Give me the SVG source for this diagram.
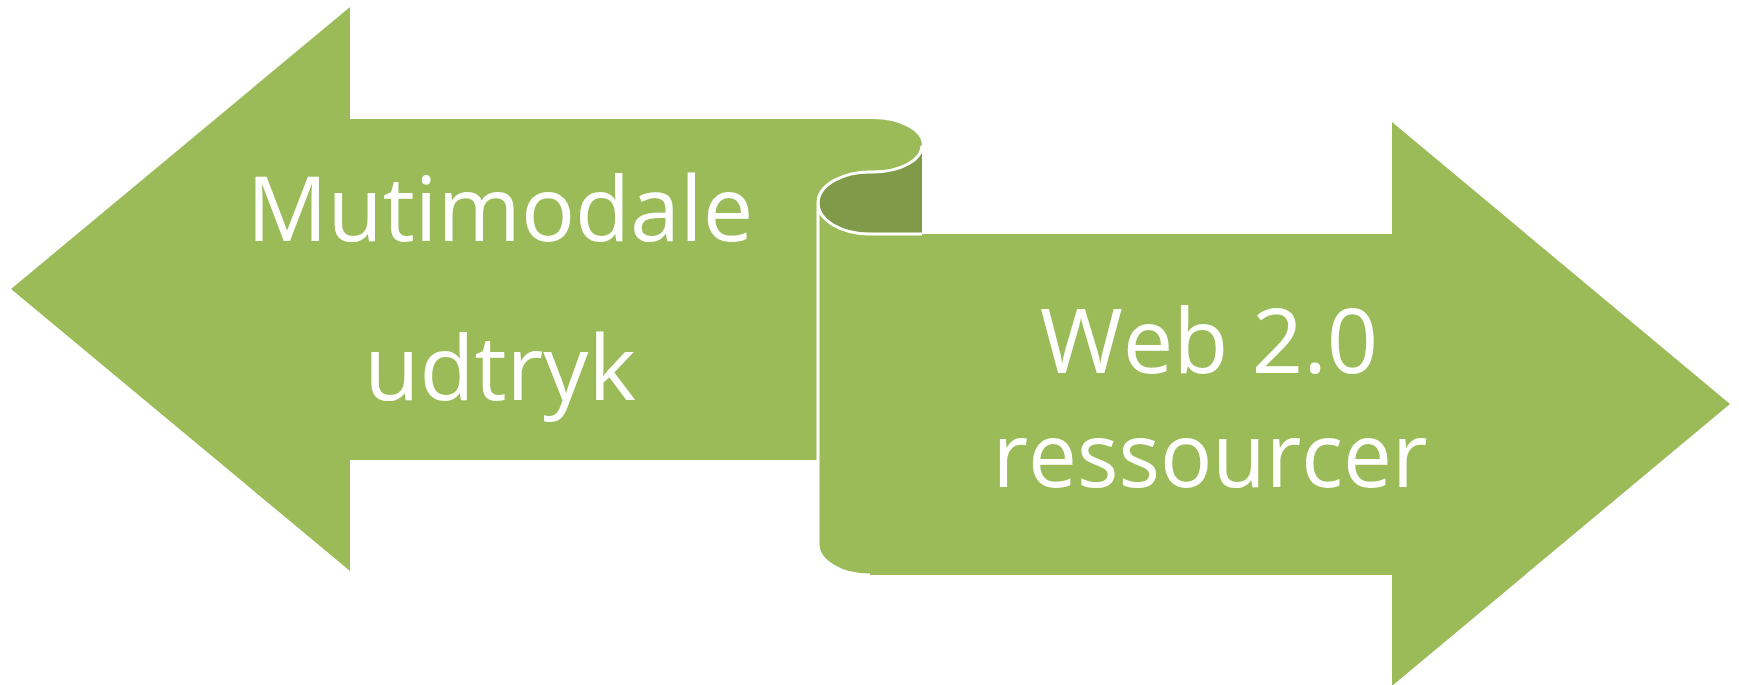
<svg xmlns="http://www.w3.org/2000/svg" width="1739" height="685" viewBox="0 0 1739 685">
<style>
.g{fill:#9BBB59}
.dk{fill:#7F9A48}
.ol{fill:none;stroke:#FFFFFF;stroke-width:3}
.t{font-family:"Open Sans","Noto Sans","Liberation Sans",sans-serif;font-size:90px;fill:#FFFFFF;text-anchor:middle}
</style>
<rect width="1739" height="685" fill="#FFFFFF"/>
<g id="left-arrow">
<path class="g" d="M11,289 L350,7 L350,119 L873,119 A49,26.5 0 0 1 873,172 A52,31 0 0 0 818,203 L818,460 L350,460 L350,571 Z"/>
<text class="t" x="500" y="241">Mutimodale</text>
<text class="t" x="500" y="400">udtryk</text>
</g>
<g id="scroll-curl">
<path class="dk" d="M922,145.5 A49,26.5 0 0 1 873,172 A52,31 0 0 0 870,234 L922,234 Z"/>
</g>
<g id="right-arrow">
<path class="g" d="M870,234 L1392,234 L1392,122 L1730,404 L1392,686 L1392,575 L870,575 A52,31 0 0 1 818,544 L818,203 A52,31 0 0 0 870,234 Z"/>
<path class="ol" d="M870,234 L922,234 M870,575 A52,31 0 0 1 818,544 L818,203 A52,31 0 0 0 870,234"/>
<path class="ol" d="M922,145.5 A49,26.5 0 0 1 873,172 A52,31 0 0 0 818,203"/>
<text class="t" x="1209" y="373">Web 2.0</text>
<text class="t" x="1210" y="487" textLength="435" lengthAdjust="spacingAndGlyphs">ressourcer</text>
</g>
<g id="connectors"/>
</svg>
